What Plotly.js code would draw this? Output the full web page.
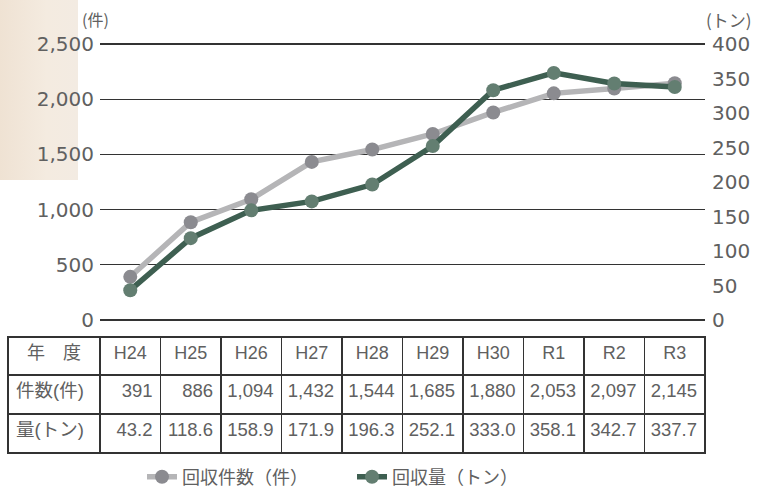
<!DOCTYPE html>
<html><head><meta charset="utf-8">
<script src="https://cdn.plot.ly/plotly-3.0.1.min.js"></script>
<style>
html,body{margin:0;padding:0;background:#fff;}
#wrap{position:relative;width:771px;height:496px;}
#bg{position:absolute;left:0;top:0;width:78px;height:180px;background:linear-gradient(90deg,#efe2d3 0%,#f4ebe0 60%,#f3ebe2 100%);}
#chart{position:absolute;left:0;top:0;width:771px;height:496px;}
</style></head>
<body><div id="wrap"><div id="bg"></div><div id="chart"></div></div>
<script>
const years = ["H24","H25","H26","H27","H28","H29","H30","R1","R2","R3"];
const counts = [391,886,1094,1432,1544,1685,1880,2053,2097,2145];
const amounts = [43.2,118.6,158.9,171.9,196.3,252.1,333.0,358.1,342.7,337.7];
const rowLabels = ["年　度","件数(件)","量(トン)"];
const seriesNames = ["回収件数（件）","回収量（トン）"];
const leftTicks = [0,500,1000,1500,2000,2500];
const rightTicks = [0,50,100,150,200,250,300,350,400];

const W=771,H=496;
const TICKFONT="'DejaVu Sans', 'Noto Sans CJK JP', sans-serif";
const FONT="'Liberation Sans', 'Noto Sans CJK JP', sans-serif";
const CJK="'Noto Sans CJK JP', sans-serif";
const TXT="#606060";

const fmtCount = v => v.toLocaleString('en-US');
const fmtAmt = v => v.toFixed(1);

const tableHeader = [rowLabels[0]].concat(years);
const tableCells = [[rowLabels[1], rowLabels[2]]].concat(
  years.map((y,i)=>[fmtCount(counts[i]), fmtAmt(amounts[i])]));

// pad axis ranges so the top/bottom gridlines are drawn
const pad = 25;                      // in left-axis units
const pxPerUnit = 276/2500;
const padPx = pad*pxPerUnit;
const rPad = pad*400/2500;

const traces = [
  {type:'scatter',mode:'lines+markers',name:seriesNames[0],x:years,y:counts,yaxis:'y',
   line:{color:'#b5b5b7',width:5.5},marker:{color:'#8b8b90',size:14}},
  {type:'scatter',mode:'lines+markers',name:seriesNames[1],x:years,y:amounts,yaxis:'y2',
   line:{color:'#3e5f51',width:5.5},marker:{color:'#637e71',size:14}},
  {type:'table',
   domain:{x:[8/W,705/W],y:[1-455/H,1-337/H]},
   columnwidth:[92].concat(years.map(()=>60.5)),
   header:{values:tableHeader,height:38,align:'center',
     line:{color:'#333333',width:1.6},fill:{color:'rgba(0,0,0,0)'},
     font:{family:FONT,size:18,color:TXT}},
   cells:{values:tableCells,height:39,align:['left'].concat(years.map(()=>'right')),
     line:{color:'#333333',width:1.6},fill:{color:'rgba(0,0,0,0)'},
     font:{family:FONT,size:18.5,color:TXT}},
   hoverinfo:'skip'}
];

const layout = {
  width:W,height:H,margin:{l:0,r:0,t:0,b:0},
  paper_bgcolor:'rgba(0,0,0,0)',plot_bgcolor:'rgba(0,0,0,0)',
  font:{family:FONT,color:TXT},
  showlegend:true,
  legend:{orientation:'h',x:142/W,xanchor:'left',y:1-477/H,yanchor:'middle',
    font:{family:CJK,size:18,color:TXT},traceorder:'normal',entrywidth:165,entrywidthmode:'pixels'},
  xaxis:{domain:[100/W,705/W],range:[-0.5,9.5],showticklabels:false,showgrid:false,
    zeroline:false,showline:false,ticks:'',fixedrange:true,anchor:'y'},
  yaxis:{domain:[1-(320+padPx)/H,1-(44-padPx)/H],range:[-pad,2500+pad],tickvals:leftTicks,
    separatethousands:true,tickformat:',d',showgrid:true,gridcolor:'#333333',gridwidth:1.3,
    zeroline:true,zerolinecolor:'#333333',zerolinewidth:1.3,showline:false,ticks:'',
    tickfont:{family:TICKFONT,size:20,color:TXT},ticklabelstandoff:5},
  yaxis2:{domain:[1-(320+padPx)/H,1-(44-padPx)/H],overlaying:'y',side:'right',
    range:[-rPad,400+rPad],tickvals:rightTicks,
    showgrid:false,zeroline:false,showline:false,ticks:'',anchor:'x',
    tickfont:{family:TICKFONT,size:20,color:TXT},ticklabelstandoff:6},
  annotations:[
    {text:'(件)',xref:'paper',yref:'paper',x:80/W,y:1-19/H,xanchor:'left',yanchor:'middle',
     showarrow:false,font:{family:CJK,size:16,color:TXT}},
    {text:'(トン)',xref:'paper',yref:'paper',x:704/W,y:1-19/H,xanchor:'left',yanchor:'middle',
     showarrow:false,font:{family:CJK,size:17,color:TXT}}
  ]
};
Plotly.newPlot('chart',traces,layout,{displayModeBar:false,staticPlot:true});
</script></body></html>
